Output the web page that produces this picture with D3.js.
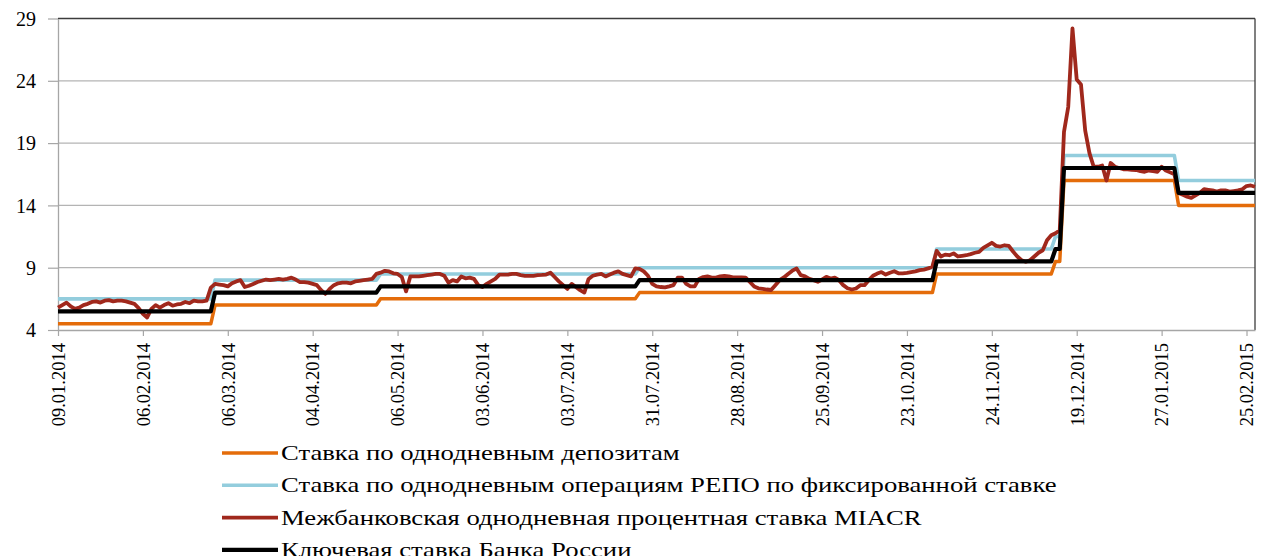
<!DOCTYPE html>
<html lang="ru">
<head>
<meta charset="utf-8">
<script src="https://cdn.jsdelivr.net/npm/d3@7/dist/d3.min.js"></script>
<style>
  html, body { margin: 0; padding: 0; background: #fff; }
  svg { display: block; }
  text { font-family: "Liberation Serif", "Times New Roman", serif; fill: #000; }
</style>
</head>
<body>
<svg id="chart" width="1264" height="556"></svg>
<script>
// Trading-day index of each labelled tick and its date
const tickDays = [0, 20, 40, 60, 80, 100, 120, 140, 160, 180, 200, 220, 240, 260, 280];
const tickLabels = ["09.01.2014", "06.02.2014", "06.03.2014", "04.04.2014", "06.05.2014",
  "03.06.2014", "03.07.2014", "31.07.2014", "28.08.2014", "25.09.2014", "23.10.2014",
  "24.11.2014", "19.12.2014", "27.01.2015", "25.02.2015"];
const yTicks = [4, 9, 14, 19, 24, 29];

// Policy rates: [trading-day index, rate] at each level change
const depositRate = [[0, 4.5], [36, 4.5], [37, 6.0], [75, 6.0], [76, 6.5], [136, 6.5], [137, 7.0],
  [206, 7.0], [207, 8.5], [234, 8.5], [235, 9.5], [236, 9.5], [237, 16], [263, 16], [264, 14], [282, 14]];
const repoRate = [[0, 6.5], [36, 6.5], [37, 8.0], [75, 8.0], [76, 8.5], [136, 8.5], [137, 9.0],
  [206, 9.0], [207, 10.5], [234, 10.5], [235, 11.5], [236, 11.5], [237, 18], [263, 18], [264, 16], [282, 16]];
const keyRate = [[0, 5.5], [36, 5.5], [37, 7.0], [75, 7.0], [76, 7.5], [136, 7.5], [137, 8.0],
  [206, 8.0], [207, 9.5], [234, 9.5], [235, 10.5], [236, 10.5], [237, 17], [263, 17], [264, 15], [282, 15]];

// MIACR overnight interbank rate, one value per trading day
const miacr = [
  5.8, 6.0, 6.2, 5.9, 5.7, 5.8, 6.0, 6.1, 6.25, 6.3,
  6.2, 6.35, 6.4, 6.3, 6.35, 6.35, 6.3, 6.2, 6.1, 5.75,
  5.3, 5.0, 5.7, 6.0, 5.8, 6.0, 6.15, 5.95, 6.05, 6.1,
  6.25, 6.15, 6.35, 6.3, 6.3, 6.35, 7.4, 7.7, 7.65, 7.6,
  7.5, 7.75, 7.9, 8.0, 7.45, 7.55, 7.7, 7.85, 7.95, 8.05,
  8.0, 8.05, 8.1, 8.05, 8.1, 8.2, 8.05, 7.85, 7.85, 7.8,
  7.7, 7.6, 7.2, 6.9, 7.3, 7.6, 7.75, 7.8, 7.8, 7.75,
  7.9, 7.95, 8.0, 8.05, 8.1, 8.5, 8.6, 8.75, 8.7, 8.55,
  8.5, 8.25, 7.1, 8.3, 8.3, 8.3, 8.35, 8.4, 8.45, 8.5,
  8.5, 8.35, 7.8, 8.0, 7.9, 8.3, 8.15, 8.2, 8.1, 7.6,
  7.45, 7.7, 7.9, 8.1, 8.45, 8.45, 8.45, 8.5, 8.5, 8.4,
  8.35, 8.35, 8.35, 8.4, 8.42, 8.45, 8.6, 8.25, 7.9, 7.6,
  7.3, 7.7, 7.45, 7.2, 7.0, 8.1, 8.35, 8.45, 8.5, 8.3,
  8.45, 8.6, 8.7, 8.5, 8.4, 8.3, 8.95, 8.9, 8.7, 8.35,
  7.7, 7.5, 7.45, 7.42, 7.5, 7.6, 8.2, 8.2, 7.7, 7.5,
  7.5, 8.1, 8.25, 8.3, 8.2, 8.2, 8.3, 8.35, 8.3, 8.22,
  8.22, 8.22, 8.2, 7.85, 7.5, 7.35, 7.3, 7.25, 7.21, 7.6,
  8.0, 8.22, 8.5, 8.76, 8.94, 8.4, 8.3, 8.1, 8.0, 7.87,
  8.05, 8.27, 8.13, 8.21, 8.0, 7.6, 7.35, 7.25, 7.33, 7.6,
  7.6, 8.0, 8.35, 8.53, 8.65, 8.45, 8.6, 8.72, 8.55, 8.55,
  8.59, 8.65, 8.7, 8.8, 8.85, 8.94, 9.1, 10.35, 9.9, 10.05,
  10.0, 10.15, 9.9, 9.95, 10.0, 10.09, 10.2, 10.27, 10.6, 10.8,
  11.0, 10.75, 10.7, 10.8, 10.75, 10.3, 9.9, 9.6, 9.47, 9.6,
  9.9, 10.2, 10.4, 11.2, 11.6, 11.76, 12.0, 19.9, 21.9, 28.2,
  24.1, 23.7, 20.0, 18.2, 17.1, 17.1, 17.2, 16.0, 17.4, 17.1,
  17.0, 16.9, 16.9, 16.85, 16.84, 16.75, 16.7, 16.8, 16.75, 16.7,
  17.1, 16.8, 16.65, 16.5, 15.0, 14.85, 14.7, 14.6, 14.8, 15.0,
  15.3, 15.25, 15.2, 15.1, 15.2, 15.2, 15.1, 15.15, 15.2, 15.3,
  15.55, 15.6, 15.5
];

const seriesNames = [
  "Ставка по однодневным депозитам",
  "Ставка по однодневным операциям РЕПО по фиксированной ставке",
  "Межбанковская однодневная процентная ставка MIACR",
  "Ключевая ставка Банка России"
];
const seriesColors = ["#E46C0A", "#93CDDD", "#A0281C", "#000000"];

const svg = d3.select("#chart");
const plot = { left: 58, right: 1255, top: 18.5, bottom: 330 };

const x = d3.scaleLinear().domain([0, miacr.length - 1]).range([plot.left, plot.right]);
const y = d3.scaleLinear().domain([4, 29]).range([plot.bottom, plot.top]);

// horizontal gridlines
svg.append("g")
  .selectAll("line")
  .data(yTicks.filter(v => v > 4 && v < 29))
  .join("line")
  .attr("x1", plot.left).attr("x2", plot.right)
  .attr("y1", d => y(d)).attr("y2", d => y(d))
  .attr("stroke", "#b4b4b4").attr("stroke-width", 1.2);

// plot frame: dark top and right edges
svg.append("line")
  .attr("x1", plot.left).attr("x2", plot.right)
  .attr("y1", y(29)).attr("y2", y(29))
  .attr("stroke", "#3c3c3c").attr("stroke-width", 1.3);
svg.append("line")
  .attr("x1", plot.right).attr("x2", plot.right)
  .attr("y1", y(29)).attr("y2", y(4))
  .attr("stroke", "#3c3c3c").attr("stroke-width", 1.3);

// y axis
const yAxis = d3.axisLeft(y).tickValues(yTicks).tickSize(10).tickSizeOuter(0).tickPadding(12);
const gy = svg.append("g").attr("transform", `translate(${plot.left},0)`).call(yAxis);
gy.select(".domain").attr("stroke", "#a6a6a6").attr("stroke-width", 1.3);
gy.selectAll(".tick line").attr("stroke", "#a6a6a6").attr("stroke-width", 1.2);
gy.selectAll(".tick text")
  .style("font-family", '"Liberation Serif", "Times New Roman", serif')
  .style("font-size", "20px").attr("fill", "#000").attr("dy", "0.34em");

// x axis
const xAxis = d3.axisBottom(x).tickValues(tickDays)
  .tickFormat((d, i) => tickLabels[i]).tickSize(6).tickSizeOuter(0);
const gx = svg.append("g").attr("transform", `translate(0,${plot.bottom})`).call(xAxis);
gx.select(".domain").attr("stroke", "#a6a6a6").attr("stroke-width", 1.3);
gx.selectAll(".tick line").attr("stroke", "#a6a6a6").attr("stroke-width", 1.2);
gx.selectAll(".tick text")
  .style("font-family", '"Liberation Serif", "Times New Roman", serif')
  .style("font-size", "18.5px").attr("fill", "#000")
  .attr("text-anchor", "end")
  .attr("transform", "rotate(-90)")
  .attr("x", -13).attr("y", 0).attr("dy", "0.34em");

// series lines
const line = d3.line().x(d => x(d[0])).y(d => y(d[1])).curve(d3.curveLinear);
const seriesData = [depositRate, repoRate, miacr.map((v, i) => [i, v]), keyRate];
const widths = [3.5, 3.6, 3.8, 4.2];

svg.append("g").selectAll("path")
  .data(seriesData)
  .join("path")
  .attr("d", line)
  .attr("fill", "none")
  .attr("stroke", (d, i) => seriesColors[i])
  .attr("stroke-width", (d, i) => widths[i])
  .attr("stroke-linejoin", "round")
  .attr("stroke-linecap", "butt");

// legend: wide serif labels beside short line samples
const legend = svg.append("g").attr("transform", "translate(222,453)");
const rows = legend.selectAll("g")
  .data(seriesNames)
  .join("g")
  .attr("transform", (d, i) => `translate(0,${i * 32.3})`);
rows.append("line")
  .attr("x1", 0).attr("x2", 56).attr("y1", 0).attr("y2", 0)
  .attr("stroke", (d, i) => seriesColors[i])
  .attr("stroke-width", (d, i) => widths[i]);
rows.append("text")
  .attr("transform", "translate(59,0) scale(1.27,1)")
  .attr("x", 0).attr("y", 0).attr("dy", "0.34em")
  .style("font-size", "21px")
  .text(d => d);
</script>
</body>
</html>
